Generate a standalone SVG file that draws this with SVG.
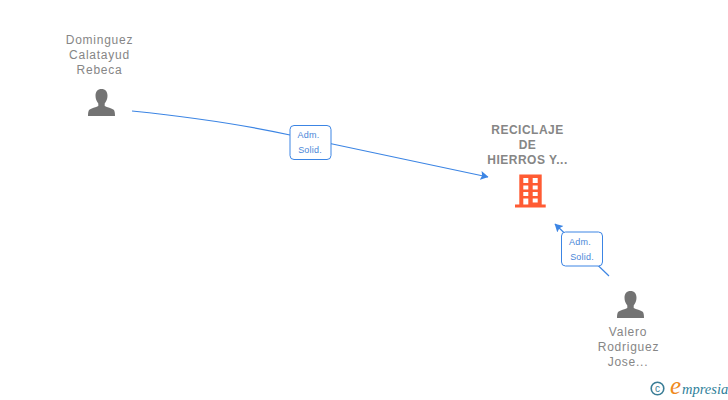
<svg xmlns="http://www.w3.org/2000/svg" width="728" height="400" viewBox="0 0 728 400">
<defs>
<style>
.n{font:12px "Liberation Sans",Arial,sans-serif;fill:#868686;text-anchor:middle;letter-spacing:.75px}
.c{font-weight:bold;letter-spacing:.5px}
.e{font:9px "Liberation Sans",Arial,sans-serif;fill:#4a86d8;text-anchor:middle;letter-spacing:.2px}
.b{fill:#fff;stroke:#3c85e4;stroke-width:1}
.l{fill:none;stroke:#3c85e4;stroke-width:1.200}
.p{fill:#737373}
.o{fill:#ff5b33}
</style>
<path id="person" d="M0 0c-3.800 0-6 2.700-6 6.800 0 3 1.200 5.700 2.800 7.700v2.500c-2.500 1.700-7 2-9 3.700-1 1-1.300 3.300-1.300 6.300h27c0-3-.3-5.300-1.300-6.300-2-1.700-6.500-2-9-3.700v-2.500c1.600-2 2.800-4.700 2.800-7.700 0-4.100-2.200-6.800-6-6.800z"/>
<marker id="a" markerWidth="10" markerHeight="10" refX="7.500" refY="4.500" orient="auto" markerUnits="userSpaceOnUse"><path d="M0 0L8 4.500L0 9L1.500 4.500z" fill="#3c85e4"/></marker>
</defs>
<g id="connectors">
<path class="l" marker-end="url(#a)" d="M132 111C190 117 240 124 290 135L488 177"/>
<path class="l" marker-end="url(#a)" d="M609 276L555 224"/>
</g>
<g id="edge-label-1"><rect class="b" x="290" y="125.500" width="41" height="34" rx="4"/><text class="e" x="308.500" y="138">Adm.</text><text class="e" x="310" y="153">Solid.</text></g>
<g id="edge-label-2"><rect class="b" x="561.500" y="232" width="41" height="34" rx="4"/><text class="e" x="580" y="245">Adm.</text><text class="e" x="582" y="260">Solid.</text></g>
<g id="node-dominguez">
<text class="n" x="99.500" y="44">Dominguez</text><text class="n" x="99.500" y="59">Calatayud</text><text class="n" x="99.500" y="74">Rebeca</text>
<use href="#person" class="p" x="101.500" y="89"/>
</g>
<g id="node-reciclaje">
<text class="n c" x="527.500" y="134">RECICLAJE</text><text class="n c" x="527.500" y="149">DE</text><text class="n c" x="527.500" y="164">HIERROS Y...</text>
<path class="o" fill-rule="evenodd" d="M519.300 174.500H541.700V204.500H545.700V207.500H515V204.500H519.300zM523.300 178V183H528.300V178zM532.700 178V183H537.700V178zM523.300 185.500V189.500H528.300V185.500zM532.700 185.500V189.500H537.700V185.500zM523.300 192V196H528.300V192zM532.700 192V196H537.700V192zM523.300 198.500V204.500H528.300V198.500zM532.700 198.500V202.500H537.700V198.500z"/>
</g>
<g id="node-valero">
<use href="#person" class="p" x="630.500" y="291"/>
<text class="n" x="628" y="336">Valero</text><text class="n" x="628.500" y="351">Rodriguez</text><text class="n" x="628" y="366">Jose...</text>
</g>
<g id="logo">
<circle cx="657.500" cy="388.500" r="6.300" fill="none" stroke="#3a7d96" stroke-width="1.600"/>
<text x="657.500" y="392" font-family="Liberation Sans,sans-serif" font-size="10" fill="#3a7d96" text-anchor="middle">c</text>
<text x="670" y="394" font-family="Liberation Serif,serif" font-style="italic" font-size="25" fill="#f08a1d">e</text>
<text x="682" y="394" font-family="Liberation Serif,serif" font-style="italic" font-size="14.500" fill="#2f7f9a">mpresia</text>
</g>
</svg>
